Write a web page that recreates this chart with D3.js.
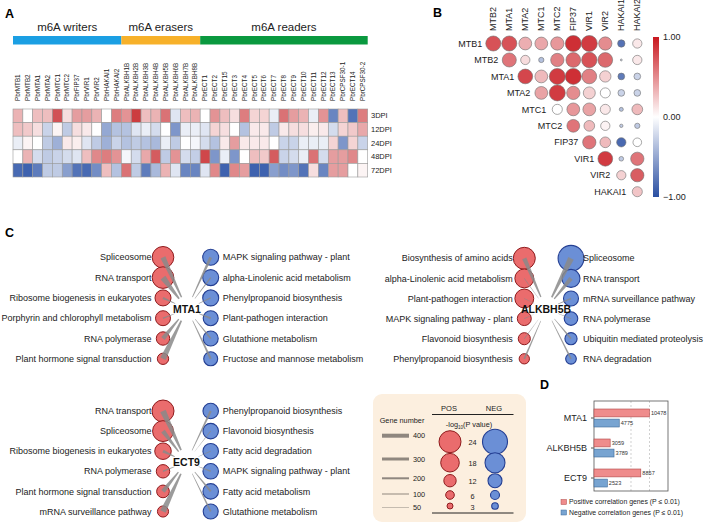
<!DOCTYPE html>
<html><head><meta charset="utf-8">
<script src="https://cdn.jsdelivr.net/npm/d3@7"></script>
<style>body{margin:0;background:#fff} svg{display:block;font-family:"Liberation Sans",Arial,sans-serif}</style>
</head><body>
<svg id="c" width="708" height="525"></svg>
<script>
// ---------------- DATA ----------------
// Panel A
const groupNames = ["m6A writers", "m6A erasers", "m6A readers"];
const groupSizes = [11, 8, 17];
const genes = ["PbrMTB1","PbrMTB2","PbrMTA1","PbrMTA2","PbrMTC1","PbrMTC2","PbrFIP37","PbrVIR1","PbrVIR2","PbrHAKAI1","PbrHAKAI2",
  "PbrALKBH1B","PbrALKBH2B","PbrALKBH3B","PbrALKBH4B","PbrALKBH5B","PbrALKBH6B","PbrALKBH7B","PbrALKBH8B",
  "PbrECT1","PbrECT2","PbrECT15","PbrECT3","PbrECT4","PbrECT5","PbrECT6","PbrECT7","PbrECT8","PbrECT9","PbrECT10","PbrECT11","PbrECT12","PbrECT13","PbrCPSF30-1","PbrECT14","PbrCPSF30-2"];
const timepoints = ["3DPI","12DPI","24DPI","48DPI","72DPI"];
const expr3 = [0.35,0.0,0.3,0.3,0.8,0.15,0.45,0.45,0.35,0.0,0.6,0.5,0.9,0.3,0.35,0.65,-0.15,0.3,0.35,0.0,0.5,0.3,0.15,0.6,0.2,0.2,-0.1,0.65,0.45,0.35,-0.1,0.5,-0.7,0.3,-0.8,0.6];
const expr12 = [0.3,0.25,0.15,-0.25,0.05,-0.3,0.15,0.1,0.0,-0.5,-0.35,-0.35,-0.15,-0.1,-0.2,0.0,-0.6,-0.1,-0.1,-0.15,0.2,0.15,0.0,-0.35,0.1,0.1,-0.3,0.1,0.15,0.15,0.08,0.1,-0.2,0.2,0.25,0.4];
const expr24 = [-0.1,0.05,0.0,-0.3,-0.45,0.1,0.08,-0.15,-0.3,-0.45,-0.25,-0.35,-0.3,-0.35,-0.4,-0.1,-0.3,0.0,-0.05,-0.2,-0.35,0.1,0.45,0.1,0.1,0.1,0.0,-0.25,-0.25,-0.1,-0.1,-0.1,0.2,-0.6,0.2,-0.25];
const expr48 = [0.0,0.35,-0.2,-0.3,-0.25,-0.2,-0.15,0.3,0.55,0.6,0.5,-0.05,-0.2,0.4,0.75,-0.3,0.5,-0.2,-0.28,0.85,-0.6,-0.1,-0.6,0.0,0.3,0.25,0.75,-0.25,-0.2,-0.1,0.65,-0.2,0.45,0.45,0.55,0.0];
const expr72 = [-0.85,-0.9,-0.75,-0.3,-0.3,-0.55,-0.8,-0.85,-0.65,0.3,-0.35,0.65,-0.3,-0.75,-0.4,0.35,-0.15,-0.7,-0.7,-0.15,0.55,-0.9,0.55,0.45,-0.9,-0.9,-0.55,-0.65,-0.6,-0.8,0.15,-0.7,0.45,0.45,0.0,0.05];
const exprRows = [expr3, expr12, expr24, expr48, expr72];

// Panel B (upper triangle, row i starts at column i)
const corrCols = ["MTB2","MTA1","MTA2","MTC1","MTC2","FIP37","VIR1","VIR2","HAKAI1","HAKAI2"];
const corrRows = ["MTB1","MTB2","MTA1","MTA2","MTC1","MTC2","FIP37","VIR1","VIR2","HAKAI1"];
const corrValues = [
  [0.75,0.75,0.35,0.38,0.45,0.9,0.85,0.5,-0.8,0.1],
  [0.6,0.15,-0.35,0.55,0.65,0.75,0.65,-0.2,0.1],
  [0.8,0.3,0.85,0.9,0.55,0.2,-0.75,-0.25],
  [0.4,0.85,0.5,0.2,0.0,-0.25,-0.25],
  [0.0,0.45,0.4,0.1,-0.35,0.3],
  [0.6,0.3,0.05,-0.3,-0.3],
  [0.6,0.3,-0.85,0.0],
  [0.85,-0.3,0.6],
  [0.2,0.7],
  [0.25]
];
const corrSizes = [
  [0.94,0.94,0.8,0.8,0.83,1.0,1.0,0.83,0.46,0.58],
  [0.88,0.58,0.33,0.83,0.92,0.96,0.92,0.12,0.58],
  [0.92,0.8,1.0,1.0,0.92,0.71,0.42,0.42],
  [0.8,1.0,0.83,0.75,0.63,0.42,0.42],
  [0.63,0.8,0.8,0.63,0.25,0.67],
  [0.8,0.67,0.58,0.21,0.33],
  [0.83,0.67,0.58,0.54],
  [0.92,0.29,0.83],
  [0.58,0.83],
  [0.63]
];

// Panel C  (-log10 P and gene numbers)
const mta1PosTerms = ["Spliceosome","RNA transport","Ribosome biogenesis in eukaryotes","Porphyrin and chlorophyll metabolism","RNA polymerase","Plant hormone signal transduction"];
const mta1PosP = [23.3, 23.3, 15.5, 14.5, 13, 10.3];
const mta1PosGenes = [350, 400, 150, 100, 300, 400];
const mta1NegTerms = ["MAPK signaling pathway - plant","alpha-Linolenic acid metabolism","Phenylpropanoid biosynthesis","Plant-pathogen interaction","Glutathione metabolism","Fructose and mannose metabolism"];
const mta1NegP = [14, 14, 14, 13, 13, 12];
const mta1NegGenes = [200, 100, 100, 150, 120, 150];

const alkPosTerms = ["Biosynthesis of amino acids","alpha-Linolenic acid metabolism","Plant-pathogen interaction","MAPK signaling pathway - plant","Flavonoid biosynthesis","Phenylpropanoid biosynthesis"];
const alkPosP = [24, 18.5, 18.5, 13.5, 11.5, 8.7];
const alkPosGenes = [300, 50, 50, 60, 50, 120];
const alkNegTerms = ["Spliceosome","RNA transport","mRNA surveillance pathway","RNA polymerase","Ubiquitin mediated proteolysis","RNA degradation"];
const alkNegP = [25, 16, 13, 11.5, 9.8, 8];
const alkNegGenes = [400, 300, 100, 50, 120, 120];

const ect9PosTerms = ["RNA transport","Spliceosome","Ribosome biogenesis in eukaryotes","RNA polymerase","Plant hormone signal transduction","mRNA surveillance pathway"];
const ect9PosP = [24, 22, 16, 13, 12.3, 10];
const ect9PosGenes = [400, 300, 200, 100, 300, 400];
const ect9NegTerms = ["Phenylpropanoid biosynthesis","Flavonoid biosynthesis","Fatty acid degradation","MAPK signaling pathway - plant","Fatty acid metabolism","Glutathione metabolism"];
const ect9NegP = [13.5, 13.5, 13.5, 13.5, 13.5, 13];
const ect9NegGenes = [150, 50, 50, 100, 150, 120];

const legendGenes = [400, 300, 200, 100, 50];
const legendP = [24, 18, 12, 6, 3];

// Panel D
const dGenes = ["MTA1", "ALKBH5B", "ECT9"];
const dPos = [10478, 3059, 8857];
const dNeg = [4775, 3789, 2523];
const dLegend = ["Positive correlation genes (P \u2264 0.01)", "Negative correlation genes (P \u2264 0.01)"];

// ---------------- DRAW ----------------
const svg = d3.select("#c");
const FONT = '"Liberation Sans",Arial,sans-serif';

function panelLabel(t, x, y) {
  svg.append("text").attr("x", x).attr("y", y).attr("font-size", 12.5).attr("font-weight", "bold").text(t);
}
panelLabel("A", 5, 18);
panelLabel("B", 433, 17);
panelLabel("C", 5, 237);
panelLabel("D", 540, 389);

// ---- Panel A ----
const hx = d3.scaleBand().domain(genes).range([13, 367.7]);
const hy = d3.scaleBand().domain(timepoints).range([109, 177]);
const heatColor = d3.scaleLinear().domain([-1, 0, 1]).range(["#2850a6", "#ffffff", "#c6262a"]);
const groupColors = ["#1b9fe3", "#f7b12a", "#0a993f"];
let gi = 0;
groupNames.forEach((name, i) => {
  const first = genes[gi], last = genes[gi + groupSizes[i] - 1];
  const x0 = hx(first), x1 = hx(last) + hx.bandwidth();
  svg.append("rect").attr("x", x0).attr("y", 36).attr("width", x1 - x0).attr("height", 8.5).attr("fill", groupColors[i]);
  svg.append("text").attr("x", (x0 + x1) / 2).attr("y", 31).attr("text-anchor", "middle").attr("font-size", 11.5).attr("fill", "#222").text(name);
  gi += groupSizes[i];
});
svg.append("g").selectAll("text").data(genes).join("text")
  .attr("transform", d => `translate(${hx(d) + hx.bandwidth() / 2},101) rotate(-90)`)
  .attr("dy", "0.35em").attr("font-size", 6.3).attr("fill", "#222").text(d => d);
const hg = svg.append("g");
exprRows.forEach((row, r) => {
  hg.selectAll(null).data(row).join("rect")
    .attr("x", (d, i) => hx(genes[i])).attr("y", hy(timepoints[r]))
    .attr("width", hx.bandwidth()).attr("height", hy.bandwidth())
    .attr("fill", d => heatColor(d)).attr("stroke", "#9a9a9a").attr("stroke-width", 0.6);
});
svg.append("g").selectAll("text").data(timepoints).join("text")
  .attr("x", 371).attr("y", d => hy(d) + hy.bandwidth() / 2).attr("dy", "0.35em")
  .attr("font-size", 7.5).attr("fill", "#222").text(d => d);

// ---- Panel B ----
const bx = d3.scalePoint().domain(corrCols).range([493.3, 637.3]);
const by = d3.scalePoint().domain(corrRows).range([43.5, 191.7]);
const corrColor = d3.scaleLinear().domain([-1, 0, 1]).range(["#2a4fa2", "#ffffff", "#c9181f"]);
const corrR = d3.scaleLinear().domain([0, 1]).range([0, 8]);
svg.append("g").selectAll("text").data(corrCols).join("text")
  .attr("transform", d => `translate(${bx(d)},31) rotate(-90)`)
  .attr("dy", "0.35em").attr("font-size", 9).attr("fill", "#222").text(d => d);
svg.append("g").selectAll("text").data(corrRows).join("text")
  .attr("x", (d, i) => bx(corrCols[i]) - 11).attr("y", d => by(d)).attr("dy", "0.35em")
  .attr("text-anchor", "end").attr("font-size", 9).attr("fill", "#222").text(d => d);
const cg = svg.append("g");
corrValues.forEach((row, r) => {
  cg.selectAll(null).data(row).join("circle")
    .attr("cx", (d, j) => bx(corrCols[r + j])).attr("cy", by(corrRows[r]))
    .attr("r", (d, j) => corrR(corrSizes[r][j]))
    .attr("fill", d => corrColor(d)).attr("stroke", "#6e6e6e").attr("stroke-width", 0.6);
});
const defs = svg.append("defs");
const grad = defs.append("linearGradient").attr("id", "cbar").attr("x1", 0).attr("y1", 0).attr("x2", 0).attr("y2", 1);
[[0, 1], [0.5, 0], [1, -1]].forEach(([o, v]) => grad.append("stop").attr("offset", o).attr("stop-color", corrColor(v)));
const cbY = d3.scaleLinear().domain([-1, 1]).range([197, 37]);
svg.append("rect").attr("x", 653).attr("y", cbY(1)).attr("width", 6).attr("height", cbY(-1) - cbY(1)).attr("fill", "url(#cbar)");
svg.append("g").selectAll("text").data([1, 0, -1]).join("text")
  .attr("x", 663).attr("y", d => cbY(d)).attr("dy", "0.35em").attr("font-size", 9).attr("fill", "#222")
  .text(d => d3.format(".2f")(d));

// ---- Panel C ----
const rPos = d3.scaleLinear().domain([3, 6, 12, 18, 24]).range([3, 4.3, 6.2, 9.3, 11]);
const rNeg = d3.scaleLinear().domain([3, 6, 12, 18, 24]).range([3.3, 4.5, 7, 10, 12.5]);
const wGene = d3.scaleLinear().domain([0, 400]).range([0, 4]);
const RED = "#ea6c6d", REDS = "#8e1b1d", BLUE = "#6b8fd6", BLUES = "#243f93";

function network(cfg) {
  const g = svg.append("g");
  const yS = d3.scalePoint().domain(d3.range(6)).range([cfg.y0, cfg.y0 + 5 * cfg.dy]);
  const pos = cfg.posTerms.map((t, i) => ({t, p: cfg.posP[i], n: cfg.posGenes[i], x: cfg.redX, y: yS(i), r: rPos(cfg.posP[i])}));
  const neg = cfg.negTerms.map((t, i) => ({t, p: cfg.negP[i], n: cfg.negGenes[i], x: cfg.blueX, y: yS(i), r: rNeg(cfg.negP[i])}));
  g.selectAll(".pc").data(pos).join("circle").attr("cx", d => d.x).attr("cy", d => d.y).attr("r", d => d.r)
    .attr("fill", RED).attr("stroke", REDS).attr("stroke-width", 1);
  g.selectAll(".nc").data(neg).join("circle").attr("cx", d => d.x).attr("cy", d => d.y).attr("r", d => d.r)
    .attr("fill", BLUE).attr("stroke", BLUES).attr("stroke-width", 1.1);
  const all = pos.concat(neg);
  g.selectAll("path").data(all).join("path")
    .attr("d", d => {
      const dx = d.x - cfg.cx, dy = d.y - cfg.cy, L = Math.hypot(dx, dy);
      const ux = dx / L, uy = dy / L, px = -uy, py = ux;
      const sx = cfg.cx + ux * 13, sy = cfg.cy + uy * 13;
      const w = wGene(d.n), ws = w * 0.2, wn = w * 0.75;
      return `M${sx + px * ws},${sy + py * ws}L${d.x + px * wn},${d.y + py * wn}L${d.x - px * wn},${d.y - py * wn}L${sx - px * ws},${sy - py * ws}Z`;
    })
    .attr("fill", "#8a8a8a").attr("fill-opacity", 0.85);
  g.selectAll(".pt").data(pos).join("text").attr("x", cfg.redX - 11.5).attr("y", d => d.y).attr("dy", "0.35em")
    .attr("text-anchor", "end").attr("font-size", 9).attr("fill", "#222").text(d => d.t);
  g.selectAll(".nt").data(neg).join("text").attr("x", cfg.blueX + 12).attr("y", d => d.y).attr("dy", "0.35em")
    .attr("font-size", 9).attr("fill", "#222").text(d => d.t);
  g.append("text").attr("x", cfg.cx).attr("y", cfg.cy).attr("dy", "0.35em").attr("text-anchor", "middle")
    .attr("font-size", 10.5).attr("font-weight", "bold").attr("fill", "#111").text(cfg.name);
}
network({name: "MTA1", cx: 187, cy: 309, redX: 163, blueX: 210.7, y0: 257.3, dy: 20.3,
  posTerms: mta1PosTerms, posP: mta1PosP, posGenes: mta1PosGenes, negTerms: mta1NegTerms, negP: mta1NegP, negGenes: mta1NegGenes});
network({name: "ALKBH5B", cx: 546, cy: 309, redX: 524.3, blueX: 571, y0: 258.3, dy: 20.1,
  posTerms: alkPosTerms, posP: alkPosP, posGenes: alkPosGenes, negTerms: alkNegTerms, negP: alkNegP, negGenes: alkNegGenes});
network({name: "ECT9", cx: 186.5, cy: 462, redX: 163, blueX: 210.7, y0: 411, dy: 20.1,
  posTerms: ect9PosTerms, posP: ect9PosP, posGenes: ect9PosGenes, negTerms: ect9NegTerms, negP: ect9NegP, negGenes: ect9NegGenes});

// Legend box
svg.append("rect").attr("x", 373).attr("y", 394).attr("width", 153).attr("height", 128).attr("rx", 9)
  .attr("fill", "#fcefdf");
svg.append("text").attr("x", 449).attr("y", 411).attr("text-anchor", "middle").attr("font-size", 7.5).attr("fill", "#222").text("POS");
svg.append("text").attr("x", 494).attr("y", 411).attr("text-anchor", "middle").attr("font-size", 7.5).attr("fill", "#222").text("NEG");
svg.append("line").attr("x1", 432).attr("x2", 513.5).attr("y1", 414.5).attr("y2", 414.5).attr("stroke", "#222").attr("stroke-width", 1);
svg.append("line").attr("x1", 432).attr("x2", 513.5).attr("y1", 513).attr("y2", 513).attr("stroke", "#222").attr("stroke-width", 1);
const lt = svg.append("text").attr("x", 469).attr("y", 427).attr("text-anchor", "middle").attr("font-size", 7.3).attr("fill", "#222");
lt.append("tspan").text("-log");
lt.append("tspan").attr("font-size", 4.5).attr("dy", 2).text("10");
lt.append("tspan").attr("dy", -2).text("(P value)");
svg.append("text").attr("x", 402).attr("y", 423).attr("text-anchor", "middle").attr("font-size", 7.3).attr("fill", "#222").text("Gene number");
const legGeneY = [435.7, 459, 478.3, 494, 507.3];
const legPY = [441.7, 462.7, 480.7, 495, 506];
svg.append("g").selectAll("rect").data(legendGenes).join("rect")
  .attr("x", 382).attr("width", 27).attr("y", (d, i) => legGeneY[i] - wGene(d) / 2).attr("height", d => wGene(d))
  .attr("fill", "#8f877f");
svg.append("g").selectAll("text").data(legendGenes).join("text")
  .attr("x", 413).attr("y", (d, i) => legGeneY[i]).attr("dy", "0.35em").attr("font-size", 7.3).attr("fill", "#222").text(d => d);
svg.append("g").selectAll("circle").data(legendP).join("circle")
  .attr("cx", 450).attr("cy", (d, i) => legPY[i]).attr("r", d => rPos(d)).attr("fill", RED).attr("stroke", REDS).attr("stroke-width", 1);
svg.append("g").selectAll("circle").data(legendP).join("circle")
  .attr("cx", 495).attr("cy", (d, i) => legPY[i]).attr("r", d => rNeg(d)).attr("fill", BLUE).attr("stroke", BLUES).attr("stroke-width", 1.1);
svg.append("g").selectAll("text").data(legendP).join("text")
  .attr("x", 472.5).attr("y", (d, i) => legPY[i] + 1).attr("dy", "0.35em").attr("text-anchor", "middle")
  .attr("font-size", 7.3).attr("fill", "#222").text(d => d);

// ---- Panel D ----
const dx = d3.scaleLinear().domain([0, 14000]).range([594, 668]);
const dy0 = d3.scaleBand().domain(dGenes).range([403, 493]);
const dy1 = d3.scaleBand().domain(["pos", "neg"]).range([-9, 9]).paddingInner(0.22);
const dg = svg.append("g");
dg.selectAll(".grid").data([7000, 10500]).join("line").attr("x1", d => dx(d)).attr("x2", d => dx(d))
  .attr("y1", 401).attr("y2", 491).attr("stroke", "#bbb").attr("stroke-width", 0.7).attr("stroke-dasharray", "2,2");
dg.append("rect").attr("x", 594).attr("y", 401).attr("width", 74).attr("height", 90).attr("fill", "none").attr("stroke", "#555").attr("stroke-width", 0.8);
const dAxis = dg.append("g").attr("transform", "translate(594,0)").call(d3.axisLeft(dy0).tickSize(3).tickPadding(4));
dAxis.select(".domain").remove();
dAxis.selectAll("text").attr("font-size", 9).attr("font-family", FONT).attr("fill", "#222");
dAxis.selectAll("line").attr("stroke", "#555");
const barData = [];
dGenes.forEach((g, i) => { barData.push({g, k: "pos", v: dPos[i]}); barData.push({g, k: "neg", v: dNeg[i]}); });
dg.selectAll(".bar").data(barData).join("rect")
  .attr("x", dx(0)).attr("y", d => dy0(d.g) + dy0.bandwidth() / 2 + dy1(d.k))
  .attr("width", d => dx(d.v) - dx(0)).attr("height", dy1.bandwidth())
  .attr("fill", d => d.k === "pos" ? "#ef8c8c" : "#78a4d1")
  .attr("stroke", d => d.k === "pos" ? "#b04848" : "#3c6898").attr("stroke-width", 0.6);
dg.selectAll(".lab").data(barData).join("text")
  .attr("x", d => dx(d.v) + 1.5).attr("y", d => dy0(d.g) + dy0.bandwidth() / 2 + dy1(d.k) + dy1.bandwidth() / 2)
  .attr("dy", "0.35em").attr("font-size", 5.6).attr("fill", "#333").text(d => d.v);
dLegend.forEach((t, i) => {
  svg.append("rect").attr("x", 561).attr("y", 499.5 + i * 10.5).attr("width", 5.5).attr("height", 5)
    .attr("fill", i === 0 ? "#ef8c8c" : "#78a4d1").attr("stroke", i === 0 ? "#b04848" : "#3c6898").attr("stroke-width", 0.5);
  svg.append("text").attr("x", 569).attr("y", 502 + i * 10.5).attr("dy", "0.35em").attr("font-size", 6.9).attr("fill", "#222").text(t);
});
</script></body></html>
